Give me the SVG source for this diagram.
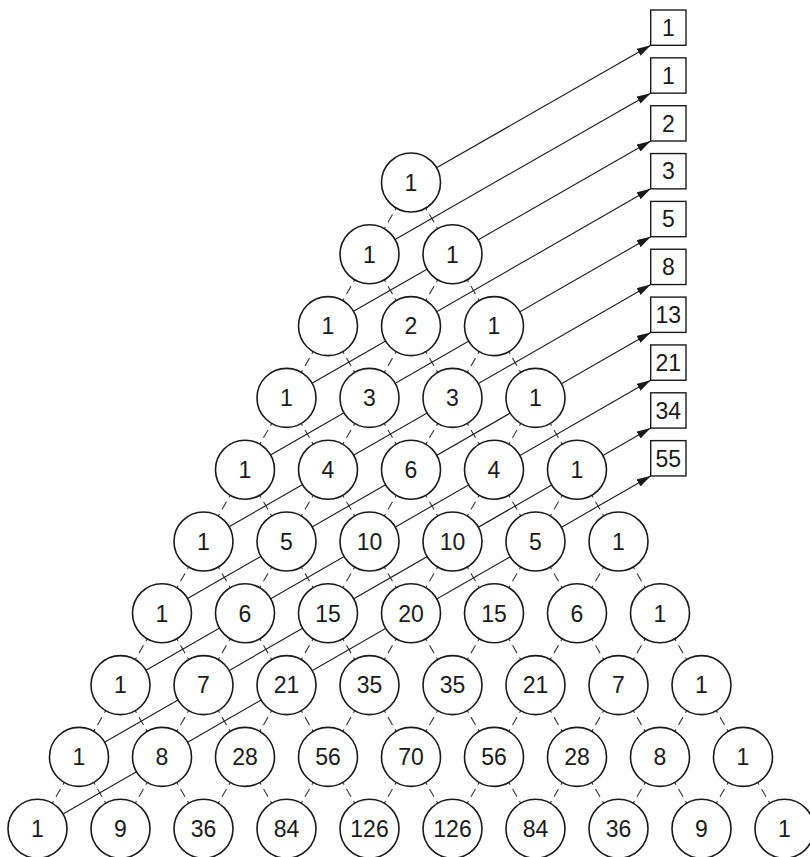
<svg xmlns="http://www.w3.org/2000/svg" xmlns:xlink="http://www.w3.org/1999/xlink" width="810" height="857" viewBox="0 0 810 857">
<style>
.c{fill:#fff;stroke:#1a1a1a;stroke-width:1.6}
.b{fill:#fff;stroke:#1a1a1a;stroke-width:1.4}
.t{font-family:"Liberation Sans",Arial,sans-serif;font-size:23px;fill:#1a1a1a;text-anchor:middle}
.d{stroke:#333;stroke-width:1.1;fill:none;stroke-dasharray:2.5 5 9 5 3}
.a{stroke:#1a1a1a;stroke-width:1.1;fill:none;marker-end:url(#ah)}
</style>
<defs>
<marker id="ah" markerUnits="userSpaceOnUse" markerWidth="15" markerHeight="9" refX="14" refY="4" orient="auto">
<path d="M0,0 L14,4 L0,8 z" fill="#1a1a1a"/>
</marker>
<g id="pr">
<line class="d" x1="-14.76" y1="25.54" x2="-26.74" y2="46.26"/>
<line class="d" x1="14.76" y1="25.54" x2="26.74" y2="46.26"/>
</g>
</defs>
<g id="connectors">
<use xlink:href="#pr" x="411" y="182.5"/>
<use xlink:href="#pr" x="369.5" y="254.3"/><use xlink:href="#pr" x="452.5" y="254.3"/>
<use xlink:href="#pr" x="328" y="326.1"/><use xlink:href="#pr" x="411" y="326.1"/><use xlink:href="#pr" x="494" y="326.1"/>
<use xlink:href="#pr" x="286.5" y="397.9"/><use xlink:href="#pr" x="369.5" y="397.9"/><use xlink:href="#pr" x="452.5" y="397.9"/><use xlink:href="#pr" x="535.5" y="397.9"/>
<use xlink:href="#pr" x="245" y="469.7"/><use xlink:href="#pr" x="328" y="469.7"/><use xlink:href="#pr" x="411" y="469.7"/><use xlink:href="#pr" x="494" y="469.7"/><use xlink:href="#pr" x="577" y="469.7"/>
<use xlink:href="#pr" x="203.5" y="541.5"/><use xlink:href="#pr" x="286.5" y="541.5"/><use xlink:href="#pr" x="369.5" y="541.5"/><use xlink:href="#pr" x="452.5" y="541.5"/><use xlink:href="#pr" x="535.5" y="541.5"/><use xlink:href="#pr" x="618.5" y="541.5"/>
<use xlink:href="#pr" x="162" y="613.3"/><use xlink:href="#pr" x="245" y="613.3"/><use xlink:href="#pr" x="328" y="613.3"/><use xlink:href="#pr" x="411" y="613.3"/><use xlink:href="#pr" x="494" y="613.3"/><use xlink:href="#pr" x="577" y="613.3"/><use xlink:href="#pr" x="660" y="613.3"/>
<use xlink:href="#pr" x="120.5" y="685.1"/><use xlink:href="#pr" x="203.5" y="685.1"/><use xlink:href="#pr" x="286.5" y="685.1"/><use xlink:href="#pr" x="369.5" y="685.1"/><use xlink:href="#pr" x="452.5" y="685.1"/><use xlink:href="#pr" x="535.5" y="685.1"/><use xlink:href="#pr" x="618.5" y="685.1"/><use xlink:href="#pr" x="701.5" y="685.1"/>
<use xlink:href="#pr" x="79" y="756.9"/><use xlink:href="#pr" x="162" y="756.9"/><use xlink:href="#pr" x="245" y="756.9"/><use xlink:href="#pr" x="328" y="756.9"/><use xlink:href="#pr" x="411" y="756.9"/><use xlink:href="#pr" x="494" y="756.9"/><use xlink:href="#pr" x="577" y="756.9"/><use xlink:href="#pr" x="660" y="756.9"/><use xlink:href="#pr" x="743" y="756.9"/>
<line class="a" x1="436.55" y1="167.75" x2="650.7" y2="45.3"/>
<line class="a" x1="395.05" y1="239.55" x2="650.7" y2="93.15"/>
<line class="a" x1="353.55" y1="311.35" x2="650.7" y2="141"/>
<line class="a" x1="312.05" y1="383.15" x2="650.7" y2="188.85"/>
<line class="a" x1="270.55" y1="454.95" x2="650.7" y2="236.7"/>
<line class="a" x1="229.05" y1="526.75" x2="650.7" y2="284.55"/>
<line class="a" x1="187.55" y1="598.55" x2="650.7" y2="332.4"/>
<line class="a" x1="146.05" y1="670.35" x2="650.7" y2="380.25"/>
<line class="a" x1="104.55" y1="742.15" x2="650.7" y2="428.1"/>
<line class="a" x1="63.05" y1="813.95" x2="650.7" y2="475.95"/>
</g>
<g id="n0_0"><circle class="c" cx="411" cy="182.5" r="29.5"/><text class="t" x="411" y="190.7">1</text></g>
<g id="n1_0"><circle class="c" cx="369.5" cy="254.3" r="29.5"/><text class="t" x="369.5" y="262.5">1</text></g>
<g id="n1_1"><circle class="c" cx="452.5" cy="254.3" r="29.5"/><text class="t" x="452.5" y="262.5">1</text></g>
<g id="n2_0"><circle class="c" cx="328" cy="326.1" r="29.5"/><text class="t" x="328" y="334.3">1</text></g>
<g id="n2_1"><circle class="c" cx="411" cy="326.1" r="29.5"/><text class="t" x="411" y="334.3">2</text></g>
<g id="n2_2"><circle class="c" cx="494" cy="326.1" r="29.5"/><text class="t" x="494" y="334.3">1</text></g>
<g id="n3_0"><circle class="c" cx="286.5" cy="397.9" r="29.5"/><text class="t" x="286.5" y="406.1">1</text></g>
<g id="n3_1"><circle class="c" cx="369.5" cy="397.9" r="29.5"/><text class="t" x="369.5" y="406.1">3</text></g>
<g id="n3_2"><circle class="c" cx="452.5" cy="397.9" r="29.5"/><text class="t" x="452.5" y="406.1">3</text></g>
<g id="n3_3"><circle class="c" cx="535.5" cy="397.9" r="29.5"/><text class="t" x="535.5" y="406.1">1</text></g>
<g id="n4_0"><circle class="c" cx="245" cy="469.7" r="29.5"/><text class="t" x="245" y="477.9">1</text></g>
<g id="n4_1"><circle class="c" cx="328" cy="469.7" r="29.5"/><text class="t" x="328" y="477.9">4</text></g>
<g id="n4_2"><circle class="c" cx="411" cy="469.7" r="29.5"/><text class="t" x="411" y="477.9">6</text></g>
<g id="n4_3"><circle class="c" cx="494" cy="469.7" r="29.5"/><text class="t" x="494" y="477.9">4</text></g>
<g id="n4_4"><circle class="c" cx="577" cy="469.7" r="29.5"/><text class="t" x="577" y="477.9">1</text></g>
<g id="n5_0"><circle class="c" cx="203.5" cy="541.5" r="29.5"/><text class="t" x="203.5" y="549.7">1</text></g>
<g id="n5_1"><circle class="c" cx="286.5" cy="541.5" r="29.5"/><text class="t" x="286.5" y="549.7">5</text></g>
<g id="n5_2"><circle class="c" cx="369.5" cy="541.5" r="29.5"/><text class="t" x="369.5" y="549.7">10</text></g>
<g id="n5_3"><circle class="c" cx="452.5" cy="541.5" r="29.5"/><text class="t" x="452.5" y="549.7">10</text></g>
<g id="n5_4"><circle class="c" cx="535.5" cy="541.5" r="29.5"/><text class="t" x="535.5" y="549.7">5</text></g>
<g id="n5_5"><circle class="c" cx="618.5" cy="541.5" r="29.5"/><text class="t" x="618.5" y="549.7">1</text></g>
<g id="n6_0"><circle class="c" cx="162" cy="613.3" r="29.5"/><text class="t" x="162" y="621.5">1</text></g>
<g id="n6_1"><circle class="c" cx="245" cy="613.3" r="29.5"/><text class="t" x="245" y="621.5">6</text></g>
<g id="n6_2"><circle class="c" cx="328" cy="613.3" r="29.5"/><text class="t" x="328" y="621.5">15</text></g>
<g id="n6_3"><circle class="c" cx="411" cy="613.3" r="29.5"/><text class="t" x="411" y="621.5">20</text></g>
<g id="n6_4"><circle class="c" cx="494" cy="613.3" r="29.5"/><text class="t" x="494" y="621.5">15</text></g>
<g id="n6_5"><circle class="c" cx="577" cy="613.3" r="29.5"/><text class="t" x="577" y="621.5">6</text></g>
<g id="n6_6"><circle class="c" cx="660" cy="613.3" r="29.5"/><text class="t" x="660" y="621.5">1</text></g>
<g id="n7_0"><circle class="c" cx="120.5" cy="685.1" r="29.5"/><text class="t" x="120.5" y="693.3">1</text></g>
<g id="n7_1"><circle class="c" cx="203.5" cy="685.1" r="29.5"/><text class="t" x="203.5" y="693.3">7</text></g>
<g id="n7_2"><circle class="c" cx="286.5" cy="685.1" r="29.5"/><text class="t" x="286.5" y="693.3">21</text></g>
<g id="n7_3"><circle class="c" cx="369.5" cy="685.1" r="29.5"/><text class="t" x="369.5" y="693.3">35</text></g>
<g id="n7_4"><circle class="c" cx="452.5" cy="685.1" r="29.5"/><text class="t" x="452.5" y="693.3">35</text></g>
<g id="n7_5"><circle class="c" cx="535.5" cy="685.1" r="29.5"/><text class="t" x="535.5" y="693.3">21</text></g>
<g id="n7_6"><circle class="c" cx="618.5" cy="685.1" r="29.5"/><text class="t" x="618.5" y="693.3">7</text></g>
<g id="n7_7"><circle class="c" cx="701.5" cy="685.1" r="29.5"/><text class="t" x="701.5" y="693.3">1</text></g>
<g id="n8_0"><circle class="c" cx="79" cy="756.9" r="29.5"/><text class="t" x="79" y="765.1">1</text></g>
<g id="n8_1"><circle class="c" cx="162" cy="756.9" r="29.5"/><text class="t" x="162" y="765.1">8</text></g>
<g id="n8_2"><circle class="c" cx="245" cy="756.9" r="29.5"/><text class="t" x="245" y="765.1">28</text></g>
<g id="n8_3"><circle class="c" cx="328" cy="756.9" r="29.5"/><text class="t" x="328" y="765.1">56</text></g>
<g id="n8_4"><circle class="c" cx="411" cy="756.9" r="29.5"/><text class="t" x="411" y="765.1">70</text></g>
<g id="n8_5"><circle class="c" cx="494" cy="756.9" r="29.5"/><text class="t" x="494" y="765.1">56</text></g>
<g id="n8_6"><circle class="c" cx="577" cy="756.9" r="29.5"/><text class="t" x="577" y="765.1">28</text></g>
<g id="n8_7"><circle class="c" cx="660" cy="756.9" r="29.5"/><text class="t" x="660" y="765.1">8</text></g>
<g id="n8_8"><circle class="c" cx="743" cy="756.9" r="29.5"/><text class="t" x="743" y="765.1">1</text></g>
<g id="n9_0"><circle class="c" cx="37.5" cy="828.7" r="29.5"/><text class="t" x="37.5" y="836.9">1</text></g>
<g id="n9_1"><circle class="c" cx="120.5" cy="828.7" r="29.5"/><text class="t" x="120.5" y="836.9">9</text></g>
<g id="n9_2"><circle class="c" cx="203.5" cy="828.7" r="29.5"/><text class="t" x="203.5" y="836.9">36</text></g>
<g id="n9_3"><circle class="c" cx="286.5" cy="828.7" r="29.5"/><text class="t" x="286.5" y="836.9">84</text></g>
<g id="n9_4"><circle class="c" cx="369.5" cy="828.7" r="29.5"/><text class="t" x="369.5" y="836.9">126</text></g>
<g id="n9_5"><circle class="c" cx="452.5" cy="828.7" r="29.5"/><text class="t" x="452.5" y="836.9">126</text></g>
<g id="n9_6"><circle class="c" cx="535.5" cy="828.7" r="29.5"/><text class="t" x="535.5" y="836.9">84</text></g>
<g id="n9_7"><circle class="c" cx="618.5" cy="828.7" r="29.5"/><text class="t" x="618.5" y="836.9">36</text></g>
<g id="n9_8"><circle class="c" cx="701.5" cy="828.7" r="29.5"/><text class="t" x="701.5" y="836.9">9</text></g>
<g id="n9_9"><circle class="c" cx="784.5" cy="828.7" r="29.5"/><text class="t" x="784.5" y="836.9">1</text></g>
<g id="f0"><rect class="b" x="650.7" y="10" width="35.3" height="35.3"/><text class="t" x="668.35" y="35.85">1</text></g>
<g id="f1"><rect class="b" x="650.7" y="57.85" width="35.3" height="35.3"/><text class="t" x="668.35" y="83.7">1</text></g>
<g id="f2"><rect class="b" x="650.7" y="105.7" width="35.3" height="35.3"/><text class="t" x="668.35" y="131.55">2</text></g>
<g id="f3"><rect class="b" x="650.7" y="153.55" width="35.3" height="35.3"/><text class="t" x="668.35" y="179.4">3</text></g>
<g id="f4"><rect class="b" x="650.7" y="201.4" width="35.3" height="35.3"/><text class="t" x="668.35" y="227.25">5</text></g>
<g id="f5"><rect class="b" x="650.7" y="249.25" width="35.3" height="35.3"/><text class="t" x="668.35" y="275.1">8</text></g>
<g id="f6"><rect class="b" x="650.7" y="297.1" width="35.3" height="35.3"/><text class="t" x="668.35" y="322.95">13</text></g>
<g id="f7"><rect class="b" x="650.7" y="344.95" width="35.3" height="35.3"/><text class="t" x="668.35" y="370.8">21</text></g>
<g id="f8"><rect class="b" x="650.7" y="392.8" width="35.3" height="35.3"/><text class="t" x="668.35" y="418.65">34</text></g>
<g id="f9"><rect class="b" x="650.7" y="440.65" width="35.3" height="35.3"/><text class="t" x="668.35" y="466.5">55</text></g>
</svg>
